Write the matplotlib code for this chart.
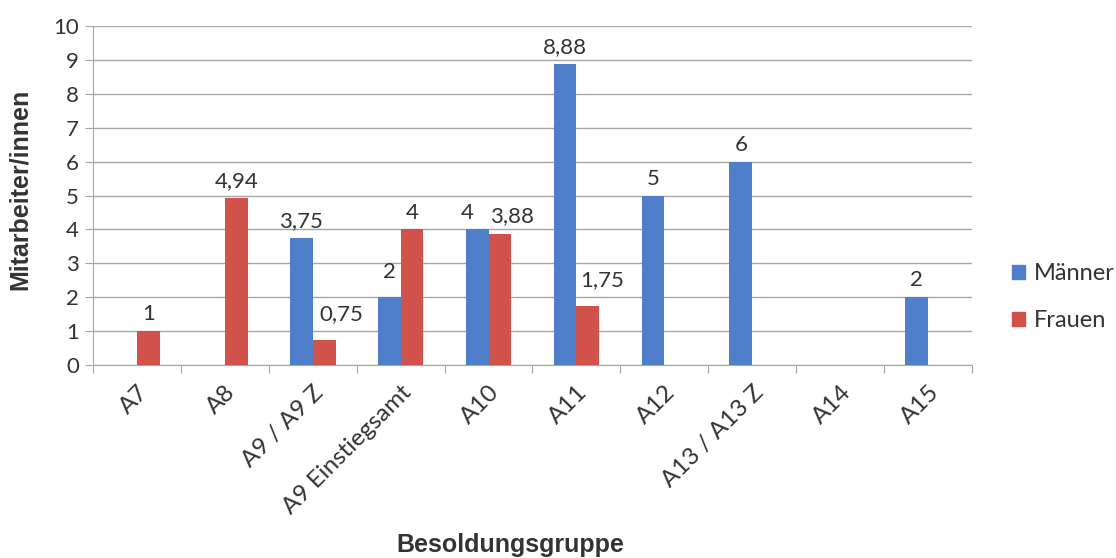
import numpy as np
import matplotlib.pyplot as plt
from matplotlib.patches import Patch

# ======================
# Data
# ======================
categories = ["A7", "A8", "A9 / A9 Z", "A9 Einstiegsamt", "A10", "A11",
              "A12", "A13 / A13 Z", "A14", "A15"]
maenner = [np.nan, np.nan, 3.75, 2, 4, 8.88, 5, 6, np.nan, 2]
frauen = [1, 4.94, 0.75, 4, 3.88, 1.75, np.nan, np.nan, np.nan, np.nan]

BLUE = "#4f7fc9"
RED = "#d0524a"
TEXT = "#333333"
GRID = "#a6a6a6"

# labels that were pushed aside in the original (series, index) -> (dx, dy) pt
nudge = {("m", 4): (-7, 0), ("f", 4): (9, 0),
         ("f", 2): (12, 6), ("f", 5): (10, 6), ("m", 3): (0, 6)}

plt.rcParams["font.family"] = ["Lato", "DejaVu Sans"]


def fmt(v):
    if float(v).is_integer():
        return f"{int(v)}"
    return f"{v:.2f}".replace(".", ",")


# ======================
# Figure
# ======================
fig = plt.figure(figsize=(11.16, 5.58), dpi=100)
ax = fig.add_axes([0.0833, 0.346, 0.7877, 0.607])

x = np.arange(len(categories))
w = 0.26

bars_m = ax.bar(x - w / 2, maenner, width=w, color=BLUE, zorder=3)
bars_f = ax.bar(x + w / 2, frauen, width=w, color=RED, zorder=3)

for key, bars, vals in (("m", bars_m, maenner), ("f", bars_f, frauen)):
    for i, (b, v) in enumerate(zip(bars, vals)):
        if np.isnan(v):
            continue
        dx, dy = nudge.get((key, i), (0, 0))
        ax.annotate(fmt(v), (b.get_x() + b.get_width() / 2, v),
                    xytext=(dx, 5 + dy), textcoords="offset points",
                    ha="center", va="bottom", fontsize=16, color=TEXT)

ax.set_xlim(-0.5, len(categories) - 0.5)
ax.set_ylim(0, 10)
ax.set_yticks(range(0, 11))
ax.yaxis.grid(True, color=GRID, linewidth=1, zorder=0)

# category boundary ticks on x axis
ax.set_xticks(np.arange(-0.5, len(categories)), minor=False)
ax.set_xticklabels([])
ax.set_xticks(x, minor=True)
ax.set_xticklabels(categories, minor=True, rotation=45, ha="right",
                   va="top", rotation_mode="anchor", fontsize=17.5, color=TEXT)
ax.tick_params(axis="x", which="minor", length=0, pad=12)
ax.tick_params(axis="x", which="major", length=6, color=GRID, direction="out")
ax.tick_params(axis="y", length=6, color=GRID, labelsize=16,
               labelcolor=TEXT, pad=4)

for side in ("top", "right"):
    ax.spines[side].set_visible(False)
for side in ("left", "bottom"):
    ax.spines[side].set_color(GRID)

ax.set_ylabel("Mitarbeiter/innen", fontsize=18, fontweight="bold",
              family="Liberation Sans", color=TEXT)
ax.yaxis.set_label_coords(-0.069, 0.519)
fig.text(0.457, 0.023, "Besoldungsgruppe", fontsize=18, fontweight="bold",
         family="Liberation Sans", color=TEXT, ha="center", va="center")

handles = [Patch(color=BLUE), Patch(color=RED)]
fig.legend(handles, ["Männer", "Frauen"], loc="center left",
           bbox_to_anchor=(0.907, 0.467), frameon=False, fontsize=17,
           handlelength=0.55, handleheight=0.55, handletextpad=0.35,
           labelspacing=1.1, labelcolor=TEXT, borderpad=0, borderaxespad=0)

plt.savefig("out.png", dpi=100)
